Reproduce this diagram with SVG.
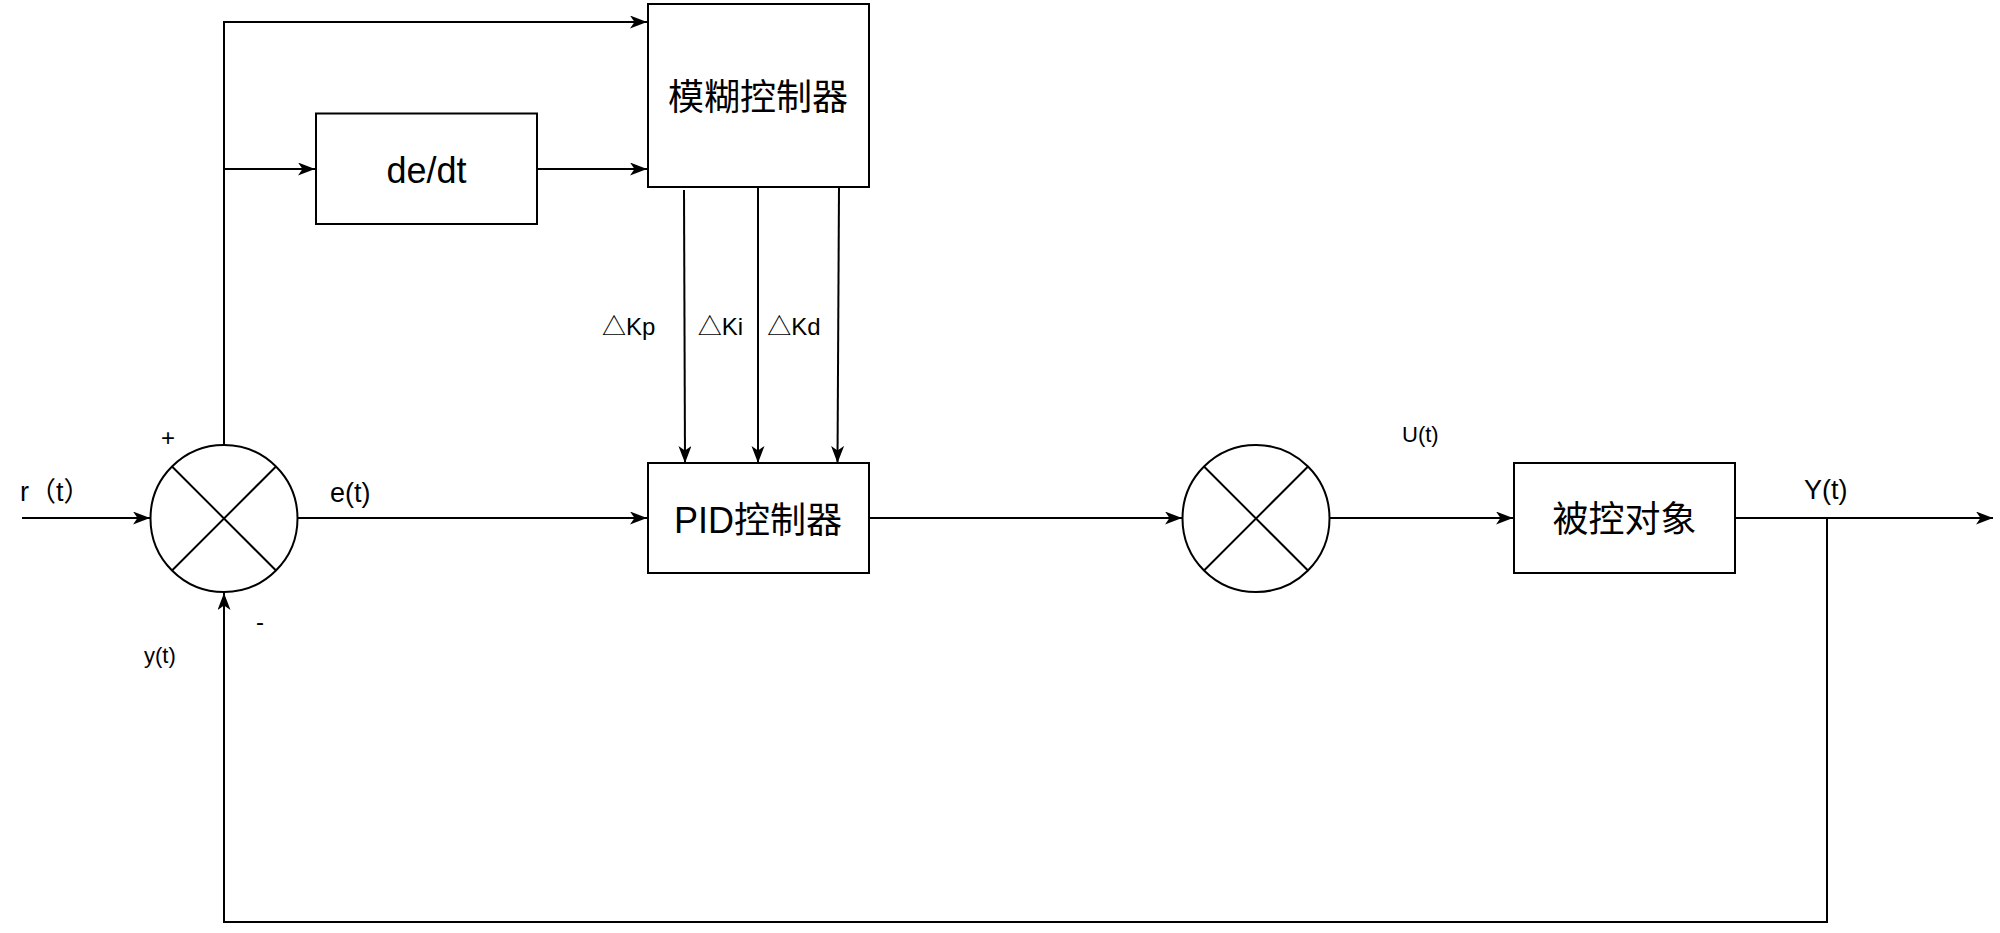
<svg xmlns="http://www.w3.org/2000/svg" width="2000" height="933" viewBox="0 0 2000 933">
<style>
.box{fill:#fff;stroke:#000;stroke-width:2}
.sum{fill:#fff;stroke:#000;stroke-width:2}
.x{stroke:#000;stroke-width:2;fill:none}
.ln{stroke:#000;stroke-width:2;fill:none}
.arr{marker-end:url(#ah)}
.big{font-family:"Liberation Sans","Noto Sans CJK SC",sans-serif;font-size:36px;fill:#000}
.lbl{font-family:"Liberation Sans","Noto Sans CJK SC",sans-serif;font-size:24px;fill:#000}
.mid{font-family:"Liberation Sans","Noto Sans CJK SC",sans-serif;font-size:27px;fill:#000}
.sm{font-family:"Liberation Sans","Noto Sans CJK SC",sans-serif;font-size:22px;fill:#000}
.cjk{font-family:"Noto Sans CJK SC",sans-serif}
</style>
<defs>
<marker id="ah" markerUnits="userSpaceOnUse" markerWidth="18" markerHeight="14" refX="17" refY="6.5" orient="auto">
<path d="M0,0 L17,6.5 L0,13 L4.5,6.5 Z" fill="#000"/>
</marker>
</defs>
<rect width="2000" height="933" fill="#fff"/>
<g id="connectors">
<path class="ln arr" d="M22,518 L150,518"/>
<path class="ln arr" d="M298,518 L647,518"/>
<path class="ln arr" d="M224,444 L224,22 L647,22"/>
<path class="ln arr" d="M224,169 L315,169"/>
<path class="ln arr" d="M537,169 L647,169"/>
<path class="ln arr" d="M684,190 L685,463"/>
<path class="ln arr" d="M758,187 L758,463"/>
<path class="ln arr" d="M839,187 L837.5,463"/>
<path class="ln arr" d="M869,518 L1182,518"/>
<path class="ln arr" d="M1329,518 L1513,518"/>
<path class="ln arr" d="M1735,518 L1993,518"/>
<path class="ln arr" d="M1827,518 L1827,922 L224,922 L224,593"/>
</g>
<g id="sum1">
<circle class="sum" cx="224" cy="518.5" r="73.5"/>
<path class="x" d="M172,466.5 L276,570.5 M276,466.5 L172,570.5"/>
</g>
<g id="sum2">
<circle class="sum" cx="1256" cy="518.5" r="73.5"/>
<path class="x" d="M1204,466.5 L1308,570.5 M1308,466.5 L1204,570.5"/>
</g>
<g id="fuzzy">
<rect class="box" x="648" y="4" width="221" height="183"/>
<text class="big cjk" x="758" y="110" text-anchor="middle">模糊控制器</text>
</g>
<g id="dedt">
<rect class="box" x="316" y="113.5" width="221" height="110.5"/>
<text class="big" x="426.5" y="183" text-anchor="middle">de/dt</text>
</g>
<g id="pid">
<rect class="box" x="648" y="463" width="221" height="110"/>
<text class="big" x="758" y="533" text-anchor="middle">PID控制器</text>
</g>
<g id="plant">
<rect class="box" x="1514" y="463" width="221" height="110"/>
<text class="big cjk" x="1624.5" y="532" text-anchor="middle">被控对象</text>
</g>
<g id="labels">
<text class="lbl" x="168" y="446" text-anchor="middle">+</text>
<text class="lbl" x="260" y="630" text-anchor="middle">-</text>
<text class="mid" x="20" y="501">r<tspan class="cjk">（</tspan>t<tspan class="cjk">）</tspan></text>
<text class="mid" x="330" y="502">e(t)</text>
<text class="sm" x="144" y="663">y(t)</text>
<text class="lbl" x="628.7" y="335" text-anchor="middle"><tspan class="cjk">△</tspan>Kp</text>
<text class="lbl" x="720.5" y="335" text-anchor="middle"><tspan class="cjk">△</tspan>Ki</text>
<text class="lbl" x="794" y="335" text-anchor="middle"><tspan class="cjk">△</tspan>Kd</text>
<text class="sm" x="1402" y="442">U(t)</text>
<text class="mid" x="1804" y="499">Y(t)</text>
</g>
</svg>
